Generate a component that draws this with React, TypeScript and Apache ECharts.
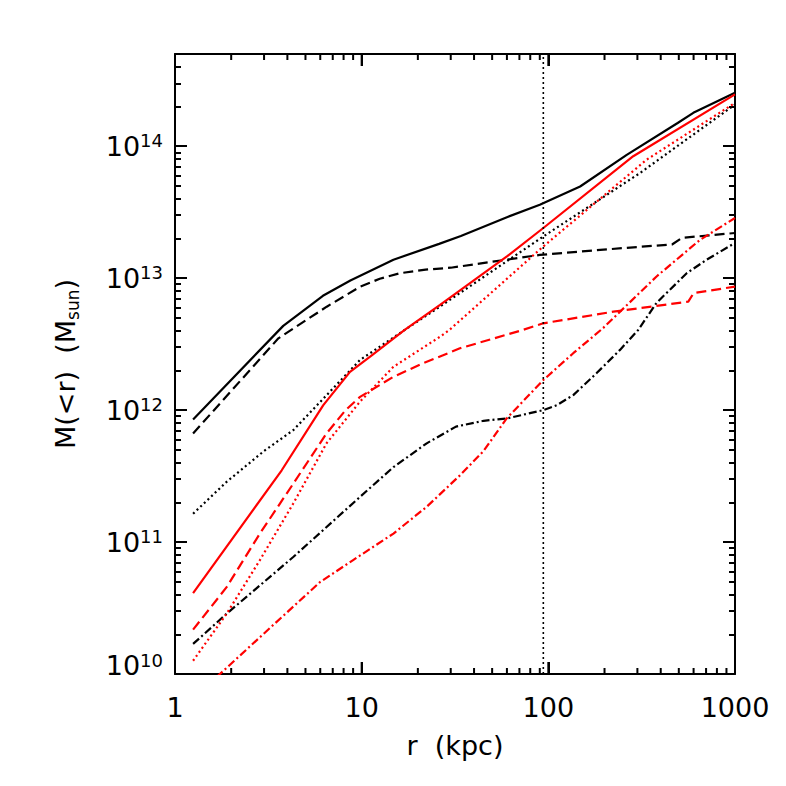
import React, { useEffect, useRef } from "react";
import * as echarts from "echarts";

const FONT = "DejaVu Sans";
const X_MIN = 1;
const X_MAX = 1000;
const Y_MIN = 1e10;
const Y_MAX = 5e14;
const CHART_H = 786;
const GRID = { left: 175, right: 51, top: 54, bottom: 112 };

const xTickLabels = ["1", "10", "100", "1000"];
const xMajorTicks = [10, 100];
const xMinorTicks = [2, 3, 4, 5, 6, 7, 8, 9, 20, 30, 40, 50, 60, 70, 80, 90, 200, 300, 400, 500, 600, 700, 800, 900];
const yMinorTicks = [
  2e10, 3e10, 4e10, 5e10, 6e10, 7e10, 8e10, 9e10,
  2e11, 3e11, 4e11, 5e11, 6e11, 7e11, 8e11, 9e11,
  2e12, 3e12, 4e12, 5e12, 6e12, 7e12, 8e12, 9e12,
  2e13, 3e13, 4e13, 5e13, 6e13, 7e13, 8e13, 9e13,
  2e14, 3e14, 4e14,
];

const rVirial = 94;

const blackSolid = [
  [1.25, 8.5e11], [3.8, 4.35e12], [6.2, 7.35e12], [8.7, 9.6e12], [14.8, 1.38e13],
  [26, 1.82e13], [34, 2.09e13], [60, 2.9e13], [90, 3.6e13], [148, 4.95e13],
  [263, 8.6e13], [493, 1.5e14], [598, 1.79e14], [1000, 2.54e14],
];
const blackDashed = [
  [1.25, 6.65e11], [3.58, 3.5e12], [6.5, 6.08e12], [9.8, 8.6e12], [12.5, 9.9e12], [16, 1.09e13],
  [22, 1.16e13], [30, 1.2e13], [90, 1.5e13], [250, 1.69e13], [460, 1.8e13], [520, 2.02e13], [1000, 2.2e13],
];
const blackDotted = [
  [1.25, 1.64e11], [1.89, 2.86e11], [3, 4.9e11], [4.3, 7.05e11], [6.5, 1.3e12], [9.8, 2.4e12], [17, 4.05e12],
  [26.3, 6.1e12], [94, 2.07e13], [310, 6.27e13], [1000, 2.07e14],
];
const blackDashDot = [
  [1.25, 1.69e10], [1.89, 2.86e10], [4.3, 7.7e10], [9.8, 2.2e11], [14.8, 3.7e11],
  [22.3, 5.6e11], [32, 7.5e11], [45, 8.3e11], [60, 8.65e11], [94, 1.0e12], [111, 1.09e12], [136, 1.3e12],
  [181, 1.9e12], [242, 2.86e12], [303, 4.05e12], [380, 6.5e12], [551, 1.09e13], [705, 1.38e13], [1000, 1.85e13],
];
const redSolid = [
  [1.25, 4.1e10], [3.73, 3.5e11], [6.23, 1.09e12], [8.66, 1.95e12], [11.1, 2.54e12],
  [17, 4.05e12], [26.3, 6.27e12], [60, 1.46e13], [94, 2.4e13], [285, 8.4e13], [1000, 2.47e14],
];
const redDashed = [
  [1.25, 2.17e10], [1.89, 4.55e10], [2.85, 1.16e11], [4.3, 2.77e11], [6.48, 6.65e11],
  [8.2, 1.0e12], [9.8, 1.26e12], [14.8, 1.79e12], [21.3, 2.26e12], [33.6, 2.94e12], [73, 4.05e12],
  [94, 4.55e12], [223, 5.57e12], [562, 6.64e12], [600, 7.7e12], [1000, 8.63e12],
];
const redDotted = [
  [1.25, 1.26e10], [1.89, 2.86e10], [2.85, 7.3e10], [4.3, 1.96e11], [6.48, 5.6e11],
  [9.8, 1.16e12], [14.8, 2.13e12], [26.3, 3.6e12], [29.5, 4.05e12], [94, 1.74e13],
  [336, 7.9e13], [1000, 2.13e14],
];
const redDashDot = [
  [1.25, 6.5e9], [2.85, 1.9e10], [5.98, 4.97e10], [9.0, 7.3e10], [14.8, 1.16e11],
  [22.3, 1.85e11], [33.6, 3.2e11], [45, 4.9e11], [59.8, 8.65e11],
  [94, 1.69e12], [136, 2.7e12], [197, 4.2e12], [380, 1.03e13], [649, 1.95e13], [1000, 2.86e13],
];

const DASHED = [10, 5];
const DOTTED = [2, 3];
const DASHDOT = [8, 3, 2, 3];
const LW = 2.2;

function lineSeries(data: any[], color: string, type: any, width = LW) {
  return {
    type: "line",
    data,
    showSymbol: false,
    symbol: "none",
    clip: true,
    silent: true,
    lineStyle: { color, width, type },
    z: 3,
  };
}

// x-axis tick marks (bottom and top): pixel lengths converted through the log y scale
function xTickSegments(values: number[], lenPx: number) {
  const gridH = CHART_H - GRID.top - GRID.bottom;
  const pxPerDecade = gridH / Math.log10(Y_MAX / Y_MIN);
  const f = Math.pow(10, lenPx / pxPerDecade);
  const out: any[] = [];
  values.forEach((v, i) => {
    if (i > 0) out.push("-");
    out.push([v, Y_MIN], [v, Y_MIN * f], "-", [v, Y_MAX], [v, Y_MAX / f]);
  });
  return out;
}

function tickSeries(data: any[]) {
  return {
    type: "line",
    data,
    showSymbol: false,
    connectNulls: false,
    silent: true,
    lineStyle: { color: "#000", width: 2 },
    z: 4,
  };
}

export default function App() {
  const ref = useRef<HTMLDivElement>(null);
  useEffect(() => {
    if (!ref.current) return;
    const chart = echarts.init(ref.current, null, { renderer: "svg" });
    const tickStyle = { color: "#000", width: 2 };
    const xLabelFmt = (v: number) => {
      const e = Math.log10(v);
      if (Math.abs(e - Math.round(e)) > 1e-6) return "";
      return xTickLabels[Math.round(e)] ?? "";
    };
    const yLabelFmt = (v: number) => {
      const l = Math.log10(v);
      const e = Math.round(l);
      if (Math.abs(l - e) > 1e-6) return "";
      if (e === 10) return `{b0|10}{s0|${e}}`;
      return `{b|10}{s|${e}}`;
    };
    const baseX = {
      type: "log",
      logBase: 10,
      min: X_MIN,
      max: X_MAX,
      splitLine: { show: false },
      axisLine: { show: true, onZero: false, lineStyle: { color: "#000", width: 2 } },
      axisTick: { show: true, inside: true, length: 12, lineStyle: { color: "#000", width: 2 } },
    };
    const baseY = {
      type: "log",
      logBase: 10,
      min: Y_MIN,
      max: Y_MAX,
      splitLine: { show: false },
      axisLine: { show: true, onZero: false, lineStyle: { color: "#000", width: 2 } },
      axisTick: { show: true, inside: true, length: 12, lineStyle: tickStyle },
    };
    const minorY = (position: string) => ({
      type: "log",
      logBase: 10,
      min: Y_MIN,
      max: Y_MAX,
      position,
      splitLine: { show: false },
      axisLine: { show: false, onZero: false },
      axisLabel: { show: false },
      axisTick: { show: true, inside: true, length: 6, lineStyle: tickStyle, customValues: yMinorTicks },
    });
    chart.setOption({
      animation: false,
      backgroundColor: "#fff",
      textStyle: { fontFamily: FONT },
      grid: { ...GRID },
      xAxis: [
        {
          ...baseX,
          position: "bottom",
          axisLabel: {
            show: true,
            formatter: xLabelFmt,
            fontFamily: FONT,
            fontSize: 27,
            color: "#000",
            margin: 20,
            showMaxLabel: true,
            showMinLabel: true,
          },
          name: "r  (kpc)",
          nameLocation: "middle",
          nameGap: 58,
          nameTextStyle: { fontFamily: FONT, fontSize: 27, color: "#000" },
        },
        {
          ...baseX,
          position: "top",
          axisLabel: { show: false },
        },
      ],
      yAxis: [
        {
          ...baseY,
          position: "left",
          axisLabel: {
            show: true,
            formatter: yLabelFmt,
            margin: 12,
            showMaxLabel: false,
            color: "#000",
            rich: {
              b: { fontFamily: FONT, fontSize: 27, color: "#000", lineHeight: 30 },
              s: { fontFamily: FONT, fontSize: 18, color: "#000", verticalAlign: "top", lineHeight: 20 },
              b0: { fontFamily: FONT, fontSize: 27, color: "#000", lineHeight: 30, padding: [0, 0, 18, 0] },
              s0: { fontFamily: FONT, fontSize: 18, color: "#000", lineHeight: 20, padding: [0, 0, 28, 0] },
            },
          },
          name: "M(<r)  (M{sub|sun})",
          nameLocation: "middle",
          nameGap: 94,
          nameTextStyle: {
            fontFamily: FONT,
            fontSize: 27,
            color: "#000",
            rich: {
              sub: { fontFamily: FONT, fontSize: 17, color: "#000", verticalAlign: "bottom", padding: [14, 0, 0, 0] },
            },
          },
        },
        {
          ...baseY,
          position: "right",
          axisLabel: { show: false },
        },
        minorY("left"),
        minorY("right"),
      ],
      series: [
        lineSeries(blackSolid, "#000", "solid"),
        lineSeries(blackDashed, "#000", DASHED),
        lineSeries(blackDotted, "#000", DOTTED),
        lineSeries(blackDashDot, "#000", DASHDOT),
        lineSeries(redSolid, "#ff0000", "solid"),
        lineSeries(redDashed, "#ff0000", DASHED),
        lineSeries(redDotted, "#ff0000", DOTTED),
        lineSeries(redDashDot, "#ff0000", DASHDOT),
        lineSeries([[rVirial, Y_MIN], [rVirial, Y_MAX]], "#000", [2, 3], 1.6),
        tickSeries(xTickSegments(xMajorTicks, 12)),
        tickSeries(xTickSegments(xMinorTicks, 6)),
      ],
    });
    return () => chart.dispose();
  }, []);
  return (
    <div
      ref={ref}
      style={{ position: "absolute", left: 0, top: 0, width: 786, height: 786, background: "#fff" }}
    />
  );
}
